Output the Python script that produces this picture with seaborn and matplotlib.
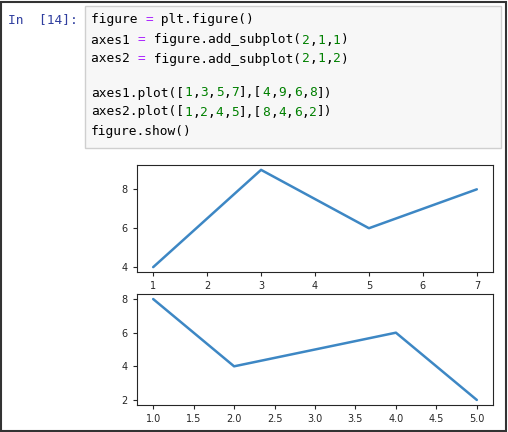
import matplotlib
matplotlib.use("Agg")
import matplotlib.pyplot as plt
import seaborn as sns
from matplotlib.patches import Rectangle

x_top = [1, 3, 5, 7]
y_top = [4, 9, 6, 8]
x_bottom = [1, 2, 4, 5]
y_bottom = [8, 4, 6, 2]

code_lines = [
    [("figure ", "k"), ("=", "#aa22ff"), (" plt.figure()", "k")],
    [("axes1 ", "k"), ("=", "#aa22ff"), (" figure.add_subplot(", "k"), ("2", "#008000"), (",", "k"),
     ("1", "#008000"), (",", "k"), ("1", "#008000"), (")", "k")],
    [("axes2 ", "k"), ("=", "#aa22ff"), (" figure.add_subplot(", "k"), ("2", "#008000"), (",", "k"),
     ("1", "#008000"), (",", "k"), ("2", "#008000"), (")", "k")],
    [],
    [("axes1.plot([", "k"), ("1", "#008000"), (",", "k"), ("3", "#008000"), (",", "k"), ("5", "#008000"),
     (",", "k"), ("7", "#008000"), ("],[", "k"), ("4", "#008000"), (",", "k"), ("9", "#008000"), (",", "k"),
     ("6", "#008000"), (",", "k"), ("8", "#008000"), ("])", "k")],
    [("axes2.plot([", "k"), ("1", "#008000"), (",", "k"), ("2", "#008000"), (",", "k"), ("4", "#008000"),
     (",", "k"), ("5", "#008000"), ("],[", "k"), ("8", "#008000"), (",", "k"), ("4", "#008000"), (",", "k"),
     ("6", "#008000"), (",", "k"), ("2", "#008000"), ("])", "k")],
    [("figure.show()", "k")],
]

W, H = 508, 432
sns.set_style("ticks")
fig = plt.figure(figsize=(W / 100, H / 100), dpi=100)

# outer frame and code cell
fig.patches.append(Rectangle((1, 1), W - 3, H - 3, transform=None, fill=False, ec="#333333", lw=1.5))
fig.patches.append(Rectangle((85, H - 148), 416, 142, transform=None, fc="#f7f7f7", ec="#cfcfcf", lw=1))
fig.text(8 / W, 1 - 20 / H, "In  [14]:", color="#303f9f", fontsize=9.3,
         family="DejaVu Sans Mono", va="center")

char_w = 7.8
line_y = [20, 40, 59, 76, 93, 112, 131]
for ly, tokens in zip(line_y, code_lines):
    col = 0
    for txt, color in tokens:
        fig.text((91 + col * char_w) / W, 1 - ly / H, txt, color=color, fontsize=9.3,
                 family="DejaVu Sans Mono", va="center")
        col += len(txt)

line_color = "#3d87c4"
ax1 = fig.add_axes([137 / W, 1 - 272 / H, 356 / W, 107 / H])
ax2 = fig.add_axes([137 / W, 1 - 405 / H, 356 / W, 111 / H])
sns.lineplot(x=x_top, y=y_top, ax=ax1, color=line_color, lw=1.8)
sns.lineplot(x=x_bottom, y=y_bottom, ax=ax2, color=line_color, lw=1.8)
ax1.set_xticks(range(1, 8))
ax1.set_yticks([4, 6, 8])
ax2.set_xticks([1.0, 1.5, 2.0, 2.5, 3.0, 3.5, 4.0, 4.5, 5.0])
ax2.set_yticks([2, 4, 6, 8])
for ax in (ax1, ax2):
    for s in ax.spines.values():
        s.set_visible(True)
        s.set_linewidth(0.8)
    ax.tick_params(labelsize=7, length=3, width=0.8)

fig.savefig("out.png", dpi=100)
